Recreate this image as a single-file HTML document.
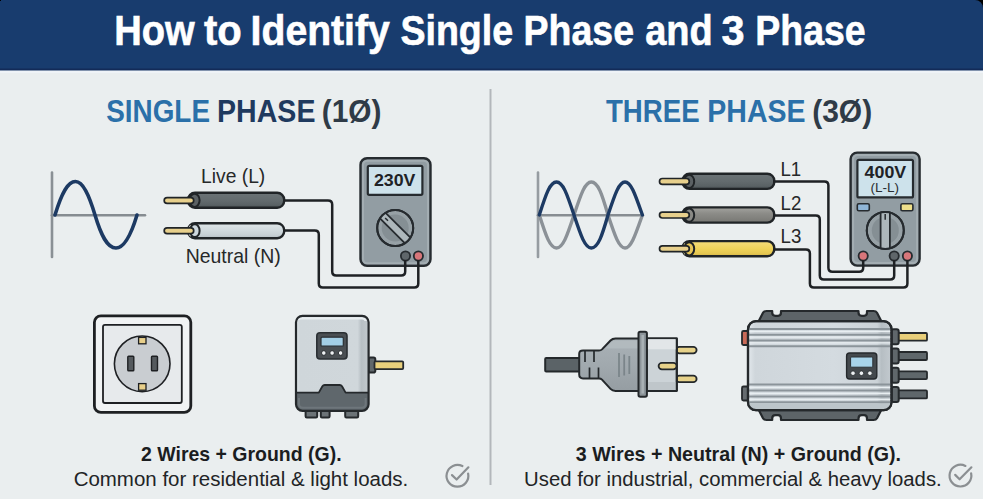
<!DOCTYPE html>
<html><head><meta charset="utf-8">
<style>
html,body{margin:0;padding:0;background:#eaeeef;}
body{width:983px;height:499px;overflow:hidden;}
svg{display:block;font-family:"Liberation Sans",sans-serif;}
</style></head>
<body>
<svg width="983" height="499" viewBox="0 0 983 499">
<defs>
  <linearGradient id="gWireDark" x1="0" y1="0" x2="0" y2="1">
    <stop offset="0" stop-color="#6b7376"/><stop offset="0.5" stop-color="#636b6e"/><stop offset="0.8" stop-color="#5a6265"/><stop offset="1" stop-color="#4a5154"/>
  </linearGradient>
  <linearGradient id="gWireLight" x1="0" y1="0" x2="0" y2="1">
    <stop offset="0" stop-color="#dfe6e9"/><stop offset="0.5" stop-color="#d0d9dd"/><stop offset="0.8" stop-color="#c6cfd4"/><stop offset="1" stop-color="#b3bdc2"/>
  </linearGradient>
  <linearGradient id="gWireMid" x1="0" y1="0" x2="0" y2="1">
    <stop offset="0" stop-color="#a3a39f"/><stop offset="0.4" stop-color="#8c8c88"/><stop offset="1" stop-color="#777773"/>
  </linearGradient>
  <linearGradient id="gWireYel" x1="0" y1="0" x2="0" y2="1">
    <stop offset="0" stop-color="#f5dd7c"/><stop offset="0.5" stop-color="#efd35a"/><stop offset="0.8" stop-color="#e6c852"/><stop offset="1" stop-color="#d2b248"/>
  </linearGradient>
  <linearGradient id="gInv" x1="0" y1="0" x2="1" y2="0">
    <stop offset="0" stop-color="#bfc4c8"/><stop offset="0.5" stop-color="#d3d7da"/><stop offset="1" stop-color="#b9bec2"/>
  </linearGradient>
  <linearGradient id="gInvR" x1="0" y1="0" x2="1" y2="0">
    <stop offset="0" stop-color="#e2e8ec"/><stop offset="0.05" stop-color="#cfd6db"/><stop offset="0.6" stop-color="#d4dbe0"/><stop offset="0.9" stop-color="#cbd2d7"/><stop offset="0.93" stop-color="#b6bec3"/><stop offset="1" stop-color="#c3cacf"/>
  </linearGradient>
  <linearGradient id="gInvL" x1="0" y1="0" x2="1" y2="0">
    <stop offset="0" stop-color="#dfe5e8"/><stop offset="0.06" stop-color="#cfd6da"/><stop offset="0.85" stop-color="#d0d7db"/><stop offset="0.9" stop-color="#b7bfc4"/><stop offset="1" stop-color="#c2c9cd"/>
  </linearGradient>
  <linearGradient id="gPlug" x1="0" y1="0" x2="0" y2="1">
    <stop offset="0" stop-color="#a9b1b6"/><stop offset="0.5" stop-color="#a1a9ae"/><stop offset="1" stop-color="#959da2"/>
  </linearGradient>
</defs>

<!-- background -->
<rect x="0" y="0" width="983" height="499" fill="#eaeeef"/>
<!-- header -->
<rect x="0" y="0" width="983" height="71" fill="#183c6e"/>
<rect x="0" y="68.5" width="983" height="2" fill="#132b58"/>
<rect x="0" y="70.5" width="983" height="2.5" fill="#eff3f7"/>
<path d="M975,0 H983 V8 A8,8 0 0 0 975,0 Z" fill="#000"/>
<rect x="0" y="0" width="1" height="1" fill="#000"/>

<!-- divider -->
<rect x="489.5" y="89" width="2" height="396" fill="#b3b7bb"/>

<!-- section headings -->

<!-- ============ LEFT: single phase wave ============ -->
<g stroke-linecap="round" fill="none">
  <line x1="52" y1="172.5" x2="52" y2="257" stroke="#8a9095" stroke-width="2.6"/>
  <line x1="52" y1="215.2" x2="145" y2="215.2" stroke="#868c91" stroke-width="2.6"/>
  <path d="M55,215 C62,192 68,181.5 75.5,181.5 C83,181.5 89,195 95,215 C101,235 107,248 116,248 C124,248 131,235 137,215" stroke="#1d3a63" stroke-width="3.6"/>
</g>

<!-- live wire -->
<g stroke="#202427">
  <rect x="188" y="192.8" width="96.2" height="15" rx="7" fill="url(#gWireDark)" stroke-width="2.4"/>
  <ellipse cx="194.6" cy="200.3" rx="5" ry="6.6" fill="#5b6164" stroke-width="2"/>
  <rect x="164.2" y="197.6" width="29.5" height="5.8" rx="2.9" fill="#e8d08c" stroke-width="1.7"/>
</g>
<g stroke="#202427">
  <rect x="188" y="223.2" width="96.2" height="15" rx="7" fill="url(#gWireLight)" stroke-width="2.4"/>
  <path d="M191,225.5 Q187.5,230.7 191,236" fill="none" stroke="#ffffff" stroke-width="2.2"/>
  <ellipse cx="194.8" cy="230.7" rx="4.8" ry="6.4" fill="#cdd7dd" stroke-width="2"/>
  <rect x="164.2" y="227.9" width="29.5" height="5.8" rx="2.9" fill="#e8d08c" stroke-width="1.7"/>
</g>

<!-- meter left -->
<g stroke="#262b2f" stroke-width="2">
  <rect x="360.5" y="158.2" width="70" height="107.6" rx="6.5" fill="#929da3" stroke-width="2.4"/>
  <rect x="363" y="160.7" width="65" height="102.6" rx="4.5" fill="none" stroke="#a3adb2" stroke-width="2"/>
  <rect x="367.8" y="165.8" width="54.6" height="29" rx="1.5" fill="#cde2eb" stroke-width="2.2"/>
  <circle cx="395.2" cy="228" r="18" fill="#97a1a6"/>
</g>
<circle cx="395.2" cy="228" r="13.5" fill="#858f94"/>
<g transform="rotate(45 395.2 228)">
  <rect x="377.5" y="224" width="35.4" height="8" fill="#adb7bb"/>
  <line x1="377.3" y1="224" x2="413.1" y2="224" stroke="#262b2f" stroke-width="1.8"/>
  <line x1="377.3" y1="232" x2="413.1" y2="232" stroke="#262b2f" stroke-width="1.8"/>
  <line x1="381" y1="228" x2="385" y2="228" stroke="#262b2f" stroke-width="1.5"/>
</g>
<circle cx="395.2" cy="228" r="18" fill="none" stroke="#262b2f" stroke-width="2"/>
<circle cx="405.5" cy="256" r="4.6" fill="#5f666a" stroke="#262b2f" stroke-width="1.8"/>
<circle cx="418.4" cy="256" r="4.6" fill="#d8767a" stroke="#262b2f" stroke-width="1.8"/>

<!-- wires left -->
<g stroke="#1e2124" stroke-width="2.5" fill="none" stroke-linejoin="round">
  <path d="M284,200.6 H328 Q332.2,200.6 332.2,204.6 V271.6 Q332.2,275.6 336.2,275.6 H401.2 Q405.2,275.6 405.2,271.6 V260"/>
  <path d="M284,230.6 H314.8 Q318.8,230.6 318.8,234.6 V283.6 Q318.8,287.6 322.8,287.6 H414.3 Q418.3,287.6 418.3,283.6 V260"/>
</g>
<!-- socket -->
<g stroke="#1e2023">
  <rect x="94.4" y="315.8" width="96.4" height="96.6" rx="6.5" fill="#f1f3f4" stroke-width="2.8"/>
  <rect x="103" y="324.8" width="78.8" height="78.2" rx="2" fill="#e7eaec" stroke-width="1.8"/>
  <circle cx="142.2" cy="363.8" r="27.8" fill="#c9cdd1" stroke-width="1.6"/>
  <rect x="127.8" y="356.2" width="6" height="14.5" rx="0.8" fill="#555a5e" stroke-width="1.4"/>
  <rect x="151.5" y="356.2" width="6" height="14.5" rx="0.8" fill="#555a5e" stroke-width="1.4"/>
  <rect x="138.6" y="337.4" width="7.4" height="6.4" fill="#e8cf8a" stroke-width="1.3"/>
  <rect x="138.6" y="383.6" width="7.4" height="6.6" fill="#e8cf8a" stroke-width="1.3"/>
</g>

<!-- inverter left -->
<g stroke="#25292c" stroke-width="2">
  <rect x="305.6" y="408" width="11.6" height="9.4" rx="1.2" fill="#6c7377"/>
  <rect x="320.8" y="408" width="8.8" height="9.4" rx="1.2" fill="#6c7377"/>
  <rect x="345.2" y="408" width="13" height="9.4" rx="1.2" fill="#6c7377"/>
  <rect x="368.5" y="357.6" width="6.8" height="15" rx="1.8" fill="#60676b"/>
  <rect x="374.5" y="361.3" width="28.7" height="7.8" rx="1" fill="#e9d07c" stroke-width="1.8"/>
</g>
<rect x="296" y="315.8" width="72.6" height="95" rx="6.5" fill="url(#gInvL)"/>
<path d="M298.5,320 Q298.5,318.3 301,318.3 H362 Q365.6,318.3 365.6,321" fill="none" stroke="#e8edf0" stroke-width="2.2"/>
<path d="M296,392.6 H318.8 L322.4,386.2 Q323.2,385 324.6,385 H339.8 Q341.2,385 342,386.2 L345.6,392.6 H368.6 V404.8 Q368.6,410.8 362.6,410.8 H302 Q296,410.8 296,404.8 Z" fill="#5f676c"/>
<path d="M299,398 V404 Q299,407.8 303,407.8 H361.6 Q365.6,407.8 365.6,404 V398" fill="none" stroke="#6e767b" stroke-width="2"/>
<path d="M296,392.6 H318.8 L322.4,386.2 Q323.2,385 324.6,385 H339.8 Q341.2,385 342,386.2 L345.6,392.6 H368.6" fill="none" stroke="#25292c" stroke-width="1.8" stroke-linejoin="round"/>
<rect x="296" y="315.8" width="72.6" height="95" rx="6.5" fill="none" stroke="#25292c" stroke-width="2.2"/>
<rect x="316.8" y="332.8" width="30.2" height="26.2" rx="3.2" fill="#4a4f53" stroke="#2b3034" stroke-width="1.6"/>
<rect x="321" y="337.2" width="22.3" height="9" rx="1" fill="#a3cfe6" stroke="#2b3034" stroke-width="1.2"/>
<circle cx="323.8" cy="353" r="2.3" fill="#eef1f3" stroke="#25292c" stroke-width="0.9"/>
<circle cx="332.1" cy="353" r="2.3" fill="#eef1f3" stroke="#25292c" stroke-width="0.9"/>
<circle cx="340.6" cy="353" r="2.3" fill="#eef1f3" stroke="#25292c" stroke-width="0.9"/>

<!-- bottom text left -->
<g fill="none" stroke="#8b8f92" stroke-width="2.2" stroke-linecap="round" stroke-linejoin="round" transform="translate(0 0.5)">
  <path d="M462.4,465.6 A10.9,10.9 0 1 0 468.1,473"/>
  <path d="M452,474.6 L456.6,479 L468.4,466.8"/>
</g>

<!-- ============ RIGHT: three phase wave ============ -->
<g stroke-linecap="round" fill="none">
  <line x1="538" y1="172.5" x2="538" y2="257" stroke="#969ca1" stroke-width="2.6"/>
  <line x1="538" y1="215.2" x2="643" y2="215.2" stroke="#878d92" stroke-width="2.6"/>
  <path d="M539.3,215 C546,236 550,248 556.5,248 C563,248 567,236 574,215 C581,194 585,182 591.3,182 C598,182 602,194 608,215 C615,236 619,248 625,248 C631,248 635,236 642.4,215" stroke="#8b9197" stroke-width="3.4"/>
  <path d="M539.3,215 C546,194 550,182 556.5,182 C563,182 567,194 574,215 C581,236 585,248 591.3,248 C598,248 602,236 608,215 C615,194 619,182 625,182 C631,182 635,194 642.4,215" stroke="#1d3a63" stroke-width="3.4"/>
</g>

<g stroke="#202427">
  <rect x="682.5" y="173.7" width="91.8" height="15.2" rx="7" fill="url(#gWireDark)" stroke-width="2.4"/>
  <ellipse cx="689.2" cy="181.4" rx="5" ry="6.6" fill="#5b6164" stroke-width="2"/>
  <rect x="659.5" y="178.5" width="29.8" height="5.8" rx="2.9" fill="#e8d08c" stroke-width="1.7"/>
  <rect x="682.5" y="207.4" width="91.8" height="15.2" rx="7" fill="url(#gWireMid)" stroke-width="2.4"/>
  <ellipse cx="689.2" cy="215.1" rx="5" ry="6.6" fill="#8a8a86" stroke-width="2"/>
  <rect x="659.5" y="212.2" width="29.8" height="5.8" rx="2.9" fill="#e8d08c" stroke-width="1.7"/>
  <rect x="682.5" y="241.1" width="91.8" height="15.2" rx="7" fill="url(#gWireYel)" stroke-width="2.4"/>
  <path d="M685.5,243.6 Q682,248.8 685.5,254.0" fill="none" stroke="#f7e7a6" stroke-width="2.2"/>
  <ellipse cx="689.2" cy="248.8" rx="5" ry="6.6" fill="#e6c65a" stroke-width="2"/>
  <rect x="659.5" y="245.9" width="29.8" height="5.8" rx="2.9" fill="#e8d08c" stroke-width="1.7"/>
</g>

<!-- meter right -->
<g stroke="#262b2f" stroke-width="2">
  <rect x="850.6" y="152.6" width="69" height="113" rx="6.5" fill="#929da3" stroke-width="2.4"/>
  <rect x="853.1" y="155.1" width="64" height="108" rx="4.5" fill="none" stroke="#a3adb2" stroke-width="2"/>
  <rect x="857.4" y="159.8" width="55.6" height="37.6" rx="1.5" fill="#cde2eb" stroke-width="2.2"/>
  <rect x="857.3" y="203.7" width="12" height="7.1" rx="1.5" fill="#8fb5d6" stroke-width="1.6"/>
  <rect x="900.9" y="203.7" width="12" height="7.1" rx="1.5" fill="#efe08a" stroke-width="1.6"/>
  <circle cx="885.3" cy="230.4" r="18.5" fill="#97a1a6"/>
</g>
<circle cx="885.3" cy="230.4" r="13.5" fill="#858f94"/>
<rect x="880.6" y="212" width="9.3" height="36.8" fill="#adb7bb"/>
<line x1="880.6" y1="212.5" x2="880.6" y2="248.3" stroke="#262b2f" stroke-width="1.8"/>
<line x1="889.9" y1="212.5" x2="889.9" y2="248.3" stroke="#262b2f" stroke-width="1.8"/>
<line x1="885.2" y1="214" x2="885.2" y2="219.8" stroke="#262b2f" stroke-width="1.5"/>
<circle cx="885.3" cy="230.4" r="18.5" fill="none" stroke="#262b2f" stroke-width="2"/>
<circle cx="863.2" cy="256" r="4.6" fill="#d8767a" stroke="#262b2f" stroke-width="1.8"/>
<circle cx="894.2" cy="256" r="4.6" fill="#5f666a" stroke="#262b2f" stroke-width="1.8"/>
<circle cx="907.4" cy="256" r="4.6" fill="#d8767a" stroke="#262b2f" stroke-width="1.8"/>

<!-- wires right -->
<g stroke="#1e2124" stroke-width="2.5" fill="none" stroke-linejoin="round">
  <path d="M773,181.6 H824.4 Q828.4,181.6 828.4,185.6 V267.8 Q828.4,271.8 832.4,271.8 H859.2 Q863.2,271.8 863.2,267.8 V260"/>
  <path d="M773,215.4 H815.8 Q819.8,215.4 819.8,219.4 V275.6 Q819.8,279.6 823.8,279.6 H890.2 Q894.2,279.6 894.2,275.6 V260"/>
  <path d="M773,249.4 H805.9 Q809.9,249.4 809.9,253.4 V283.4 Q809.9,287.4 813.9,287.4 H903.4 Q907.4,287.4 907.4,283.4 V260"/>
</g>
<!-- plug -->
<g stroke="#24282b" stroke-width="2" stroke-linejoin="round">
  <rect x="545.2" y="358" width="37" height="13.6" rx="1" fill="#5b6367"/>
  <rect x="676" y="346.8" width="20.6" height="6.6" rx="3.3" fill="#e7d28a" stroke-width="1.8"/>
  <rect x="676" y="375.6" width="20.6" height="6.6" rx="3.3" fill="#e7d28a" stroke-width="1.8"/>
  <path d="M579.2,354 Q579.2,350.6 583,350.6 H599 Q600.8,350.6 602,349.4 L610.5,340.5 Q612.5,338.4 615.5,338.4 H639 V391 H615.5 Q612.5,391 610.5,388.9 L602,379.6 Q600.8,378.4 599,378.4 H583 Q579.2,378.4 579.2,374.6 Z" fill="url(#gPlug)"/>
</g>
<path d="M604,350 L611,342.5 Q612.8,340.6 615.5,340.6 H638 V348.5 H606 Z" fill="#b9c1c5" opacity="0.6"/>
<g stroke="#24282b" stroke-width="2" stroke-linejoin="round">
  <rect x="646.8" y="338.3" width="30" height="52.7" fill="#ccd3d7"/>
</g>
<rect x="647.8" y="339.3" width="28" height="10" fill="#e2e6e8"/>
<rect x="647.8" y="382" width="28" height="8" fill="#bfc6ca"/>
<g stroke="#24282b" stroke-width="2" stroke-linejoin="round">
  <line x1="676.8" y1="338.3" x2="676.8" y2="391"/>
  <rect x="658.6" y="362.8" width="18" height="6.6" rx="3.3" fill="#e7d28a" stroke-width="1.8"/>
  <rect x="638.5" y="331.8" width="8.4" height="65" rx="1.8" fill="#8c9499"/>
</g>
<line x1="642.7" y1="335" x2="642.7" y2="393.5" stroke="#a9b1b5" stroke-width="2.5"/>
<g stroke="#7b858a" stroke-width="1.8">
  <line x1="619" y1="353" x2="619" y2="377"/>
  <line x1="624.2" y1="354.5" x2="624.2" y2="375.5"/>
  <line x1="629.3" y1="356" x2="629.3" y2="374"/>
</g>
<g stroke="#24282b" stroke-width="1.7">
  <line x1="585" y1="351" x2="585" y2="362"/>
  <line x1="594" y1="351" x2="594" y2="362"/>
  <line x1="589.5" y1="367.5" x2="589.5" y2="378"/>
  <line x1="598.5" y1="367.5" x2="598.5" y2="378"/>
</g>

<!-- inverter right -->
<g stroke="#25292c" stroke-width="2.2" stroke-linejoin="round">
  <path d="M758.5,321.5 L763,312.8 Q764,311 766.5,311 H772.2 V312.5 Q772.2,315.8 775.5,315.8 H778 Q781,315.8 781,312.5 V311 H858.5 V312.5 Q858.5,315.8 861.8,315.8 H864 Q867,315.8 867,312.5 V311 H873.5 Q876,311 877,312.8 L881.5,321.5 Z" fill="#5d6468"/>
  <path d="M758.5,409.5 L763,418.2 Q764,420 766.5,420 H772.2 V418.5 Q772.2,415.2 775.5,415.2 H778 Q781,415.2 781,418.5 V420 H858.5 V418.5 Q858.5,415.2 861.8,415.2 H864 Q867,415.2 867,418.5 V420 H873.5 Q876,420 877,418.2 L881.5,409.5 Z" fill="#5d6468"/>
  <rect x="742" y="331" width="6.5" height="14" rx="1.5" fill="#c96a58" stroke-width="1.8"/>
  <rect x="742" y="386.5" width="6.5" height="14" rx="1.5" fill="#666c70" stroke-width="1.8"/>
  <rect x="897" y="333" width="30" height="7.7" rx="1" fill="#e9cf7a" stroke-width="1.8"/>
  <rect x="897" y="352" width="30" height="8" rx="1" fill="#5f676b" stroke-width="1.8"/>
  <rect x="897" y="371.4" width="30" height="7.7" rx="1" fill="#5f676b" stroke-width="1.8"/>
  <rect x="897" y="390.4" width="30" height="8" rx="1" fill="#5f676b" stroke-width="1.8"/>
  <rect x="891.5" y="329.2" width="7.2" height="15" rx="2" fill="#60676b" stroke-width="2"/>
  <rect x="891.5" y="348.6" width="7.2" height="15" rx="2" fill="#60676b" stroke-width="2"/>
  <rect x="891.5" y="367.8" width="7.2" height="15" rx="2" fill="#60676b" stroke-width="2"/>
  <rect x="891.5" y="387" width="7.2" height="15" rx="2" fill="#60676b" stroke-width="2"/>
  <rect x="748" y="321.2" width="143.5" height="89" rx="8" fill="url(#gInvR)"/>
</g>
<g stroke="#8b949a" stroke-width="2">
  <line x1="749" y1="329" x2="890.5" y2="329"/>
  <line x1="749" y1="334.8" x2="890.5" y2="334.8"/>
  <line x1="749" y1="340.6" x2="890.5" y2="340.6"/>
  <line x1="749" y1="346.2" x2="890.5" y2="346.2"/>
  <line x1="749" y1="384.6" x2="890.5" y2="384.6"/>
  <line x1="749" y1="390.5" x2="890.5" y2="390.5"/>
  <line x1="749" y1="396.4" x2="890.5" y2="396.4"/>
  <line x1="749" y1="402.3" x2="890.5" y2="402.3"/>
</g>
<rect x="749" y="403.5" width="141.5" height="6" fill="#bcc5ca"/>
<g stroke="#e8eef1" stroke-width="1.3">
  <line x1="749" y1="331.3" x2="890.5" y2="331.3"/>
  <line x1="749" y1="337.1" x2="890.5" y2="337.1"/>
  <line x1="749" y1="342.9" x2="890.5" y2="342.9"/>
  <line x1="749" y1="387.4" x2="890.5" y2="387.4"/>
  <line x1="749" y1="393.4" x2="890.5" y2="393.4"/>
  <line x1="749" y1="399.3" x2="890.5" y2="399.3"/>
</g>
<rect x="748" y="321.2" width="143.5" height="89" rx="8" fill="none" stroke="#25292c" stroke-width="2.2"/>
<rect x="846.6" y="353" width="30.2" height="26" rx="3" fill="#44494d" stroke="#25292c" stroke-width="1.4"/>
<rect x="850.6" y="357" width="22.2" height="10.2" rx="1" fill="#a8d4ea" stroke="#2b3034" stroke-width="1"/>
<circle cx="853" cy="373.2" r="2.3" fill="#eef1f3" stroke="#25292c" stroke-width="0.8"/>
<circle cx="861.4" cy="373.2" r="2.3" fill="#eef1f3" stroke="#25292c" stroke-width="0.8"/>
<circle cx="869.9" cy="373.2" r="2.3" fill="#eef1f3" stroke="#25292c" stroke-width="0.8"/>

<!-- bottom text right -->
<g fill="none" stroke="#8b8f92" stroke-width="2.2" stroke-linecap="round" stroke-linejoin="round" transform="translate(0 0.5)">
  <path d="M965.4,465.4 A10.9,10.9 0 1 0 971.1,472.8"/>
  <path d="M955.2,474.4 L959.6,478.8 L971.4,466.8"/>
</g>
<!--TEXTS-->
<text x="114.29" y="44.6" font-size="42" font-weight="bold" fill="#ffffff" stroke="#ffffff" stroke-width="0.6" textLength="80.40" lengthAdjust="spacingAndGlyphs">How</text>
<text x="204.00" y="44.6" font-size="42" font-weight="bold" fill="#ffffff" stroke="#ffffff" stroke-width="0.6" textLength="37.78" lengthAdjust="spacingAndGlyphs">to</text>
<text x="250.60" y="44.6" font-size="42" font-weight="bold" fill="#ffffff" stroke="#ffffff" stroke-width="0.6" textLength="139.22" lengthAdjust="spacingAndGlyphs">Identify</text>
<text x="400.41" y="44.6" font-size="42" font-weight="bold" fill="#ffffff" stroke="#ffffff" stroke-width="0.6" textLength="112.72" lengthAdjust="spacingAndGlyphs">Single</text>
<text x="523.62" y="44.6" font-size="42" font-weight="bold" fill="#ffffff" stroke="#ffffff" stroke-width="0.6" textLength="110.35" lengthAdjust="spacingAndGlyphs">Phase</text>
<text x="645.20" y="44.6" font-size="42" font-weight="bold" fill="#ffffff" stroke="#ffffff" stroke-width="0.6" textLength="67.52" lengthAdjust="spacingAndGlyphs">and</text>
<text x="721.61" y="44.6" font-size="42" font-weight="bold" fill="#ffffff" stroke="#ffffff" stroke-width="0.6" textLength="23.03" lengthAdjust="spacingAndGlyphs">3</text>
<text x="755.32" y="44.6" font-size="42" font-weight="bold" fill="#ffffff" stroke="#ffffff" stroke-width="0.6" textLength="110.35" lengthAdjust="spacingAndGlyphs">Phase</text>
<text x="106.21" y="121.6" font-size="31.2" font-weight="bold" fill="#2b70a9"  textLength="103.79" lengthAdjust="spacingAndGlyphs">SINGLE</text>
<text x="217.07" y="121.6" font-size="31.2" font-weight="bold" fill="#1f3a5f"  textLength="98.36" lengthAdjust="spacingAndGlyphs">PHASE</text>
<text x="321.79" y="121.6" font-size="31.2" font-weight="bold" fill="#2f3b47"  textLength="59.63" lengthAdjust="spacingAndGlyphs">(1Ø)</text>
<text x="606.00" y="121.6" font-size="31.2" font-weight="bold" fill="#2b70a9"  textLength="93.62" lengthAdjust="spacingAndGlyphs">THREE</text>
<text x="707.27" y="121.6" font-size="31.2" font-weight="bold" fill="#2b70a9"  textLength="98.26" lengthAdjust="spacingAndGlyphs">PHASE</text>
<text x="812.18" y="121.6" font-size="31.2" font-weight="bold" fill="#2f3b47"  textLength="59.94" lengthAdjust="spacingAndGlyphs">(3Ø)</text>
<text x="201.10" y="182.5" font-size="20.3" font-weight="normal" fill="#262829"  textLength="64.15" lengthAdjust="spacingAndGlyphs">Live (L)</text>
<text x="185.68" y="262.5" font-size="20.3" font-weight="normal" fill="#262829"  textLength="95.04" lengthAdjust="spacingAndGlyphs">Neutral (N)</text>
<text x="373.97" y="186.3" font-size="17.2" font-weight="bold" fill="#1e2226"  textLength="41.38" lengthAdjust="spacingAndGlyphs">230V</text>
<text x="780.39" y="176.1" font-size="19.6" font-weight="normal" fill="#262829"  textLength="20.76" lengthAdjust="spacingAndGlyphs">L1</text>
<text x="780.59" y="209.5" font-size="19.6" font-weight="normal" fill="#262829"  textLength="20.76" lengthAdjust="spacingAndGlyphs">L2</text>
<text x="780.59" y="243.2" font-size="19.6" font-weight="normal" fill="#262829"  textLength="20.76" lengthAdjust="spacingAndGlyphs">L3</text>
<text x="864.60" y="177.5" font-size="16" font-weight="bold" fill="#1e2226"  textLength="41.62" lengthAdjust="spacingAndGlyphs">400V</text>
<text x="870.42" y="191.7" font-size="12.5" font-weight="normal" fill="#2a2e32"  textLength="28.62" lengthAdjust="spacingAndGlyphs">(L-L)</text>
<text x="141.09" y="461.2" font-size="19.3" font-weight="bold" fill="#1b1d1f"  textLength="200.49" lengthAdjust="spacingAndGlyphs">2 Wires + Ground (G).</text>
<text x="73.65" y="485.8" font-size="19.5" font-weight="normal" fill="#222426"  textLength="334.59" lengthAdjust="spacingAndGlyphs">Common for residential &amp; light loads.</text>
<text x="575.78" y="461.2" font-size="19.3" font-weight="bold" fill="#1b1d1f"  textLength="325.23" lengthAdjust="spacingAndGlyphs">3 Wires + Neutral (N) + Ground (G).</text>
<text x="524.12" y="485.8" font-size="19.5" font-weight="normal" fill="#222426"  textLength="417.57" lengthAdjust="spacingAndGlyphs">Used for industrial, commercial &amp; heavy loads.</text>
<!--/TEXTS-->
</svg>
</body></html>
